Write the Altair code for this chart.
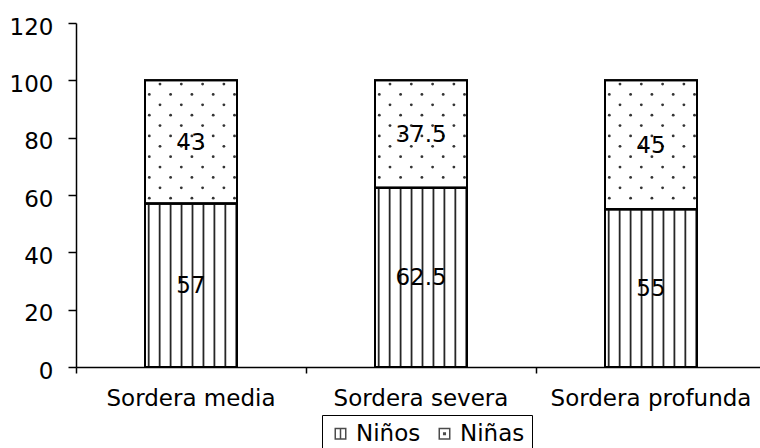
import altair as alt
import pandas as pd

# Data
categorias = ["Sordera media", "Sordera severa", "Sordera profunda"]
ninos = [57, 62.5, 55]
ninas = [43, 37.5, 45]
etiquetas_ninos = ["57", "62.5", "55"]
etiquetas_ninas = ["43", "37.5", "45"]
grupos = ["Niños", "Niñas"]
ticks_y = [0, 20, 40, 60, 80, 100, 120]

FONT = "DejaVu Sans"
FS = 23
W, H = 684, 344          # plot area
STEP = 230               # width of one category band (px)
BAR = 92                 # bar width (px)
BAR_LEFT = (STEP - BAR) / 2

# Stacked segments
seg_rows = []
for c, a, b, la, lb in zip(categorias, ninos, ninas, etiquetas_ninos, etiquetas_ninas):
    seg_rows.append({"cat": c, "grupo": "Niños", "y0": 0, "y1": a, "mid": a / 2, "label": la})
    seg_rows.append({"cat": c, "grupo": "Niñas", "y0": a, "y1": a + b, "mid": a + b / 2, "label": lb})
seg = pd.DataFrame(seg_rows)

# Vertical hatch texture for the "Niños" segments (offsets as band fractions)
STRIPE_START, STRIPE_GAP, N_STRIPES = 3.7, 10.95, 9
stripe_rows = []
for c, a in zip(categorias, ninos):
    for j in range(N_STRIPES):
        off = (BAR_LEFT + STRIPE_START + j * STRIPE_GAP) / STEP
        stripe_rows.append({"cat": c, "off": off, "y0": 0, "y1": a})
stripes = pd.DataFrame(stripe_rows)

# Dotted texture for the "Niñas" segments
ROW_GAP = 3.62           # rows, in y units
ROW_START = 1.3
DOT_GAP = 21.3
dot_rows = []
for c, a, b in zip(categorias, ninos, ninas):
    top = a + b
    r = 0
    while True:
        y = top - (ROW_START + r * ROW_GAP)
        if y < a + 0.9:
            break
        if r % 2 == 0:
            xs = [15 + k * DOT_GAP for k in range(4)]
        else:
            xs = [4.3 + k * DOT_GAP for k in range(5)]
        for px in xs:
            dot_rows.append({"cat": c, "off": (BAR_LEFT + px) / STEP, "y": y})
        r += 1
dots = pd.DataFrame(dot_rows)

x_scale = alt.Scale(domain=categorias, range=[0, 3 * STEP], paddingInner=0, paddingOuter=0)
y_scale = alt.Scale(domain=[0, 120], nice=False, zero=True)
off_scale = alt.Scale(domain=[0, 1], range=[0, STEP])

x_axis = alt.Axis(
    title=None, bandPosition=0, labelAngle=0, labelLimit=400,
    tickSize=6, tickWidth=1.5, tickColor="black",
    domainColor="black", domainWidth=1.5,
    labelPadding=14, labelFont=FONT, labelFontSize=FS, labelColor="black",
    grid=False,
)
y_axis = alt.Axis(
    title=None, values=ticks_y, tickSize=8, tickWidth=1.5, tickColor="black",
    domainColor="black", domainWidth=1.5,
    labelPadding=15, labelOffset=4, labelFont=FONT, labelFontSize=FS, labelColor="black",
    grid=False,
)

seg_path_ninos = "M-1,-1H1V1H-1Z M0,-1V1"
seg_path_ninas = "M-1,-1H1V1H-1Z M-0.15,-0.15H0.15V0.15H-0.15Z"

# Hidden markers underneath the bars; they only feed the legend symbols
legend_layer = alt.Chart(seg).mark_point(filled=False, color="black", size=110, strokeWidth=1.5).encode(
    x=alt.X("cat:N", scale=x_scale, axis=x_axis, sort=categorias),
    y=alt.Y("mid:Q", scale=y_scale, axis=y_axis),
    shape=alt.Shape(
        "grupo:N",
        scale=alt.Scale(domain=grupos, range=[seg_path_ninos, seg_path_ninas]),
        legend=alt.Legend(
            title=None, orient="none", legendX=246, legendY=392, direction="horizontal",
            strokeColor="black", padding=7, labelFont=FONT, labelFontSize=FS,
            labelColor="black", labelOffset=4, columnPadding=12,
            symbolStrokeWidth=1.5, symbolSize=110,
        ),
    ),
)

bars = alt.Chart(seg).mark_bar(size=BAR, fill="white", stroke="black", strokeWidth=2).encode(
    x=alt.X("cat:N", scale=x_scale, sort=categorias),
    y=alt.Y("y0:Q", scale=y_scale),
    y2="y1:Q",
)

hatch = alt.Chart(stripes).mark_rule(color="#262626", strokeWidth=1.8).encode(
    x=alt.X("cat:N", scale=x_scale, sort=categorias),
    xOffset=alt.XOffset("off:Q", scale=off_scale),
    y=alt.Y("y0:Q", scale=y_scale),
    y2="y1:Q",
)

dotted = alt.Chart(dots).mark_circle(color="#333333", size=8, opacity=1).encode(
    x=alt.X("cat:N", scale=x_scale, sort=categorias),
    xOffset=alt.XOffset("off:Q", scale=off_scale),
    y=alt.Y("y:Q", scale=y_scale),
)

outline = alt.Chart(seg).mark_bar(size=BAR, fillOpacity=0, stroke="black", strokeWidth=2).encode(
    x=alt.X("cat:N", scale=x_scale, sort=categorias),
    y=alt.Y("y0:Q", scale=y_scale),
    y2="y1:Q",
)

labels = alt.Chart(seg).mark_text(font=FONT, fontSize=FS, color="black", baseline="middle", dy=1).encode(
    x=alt.X("cat:N", scale=x_scale, sort=categorias),
    y=alt.Y("mid:Q", scale=y_scale),
    text="label:N",
)

chart = alt.layer(legend_layer, bars, hatch, dotted, outline, labels).properties(
    width=W, height=H,
    autosize=alt.AutoSizeParams(type="none"),
    padding={"left": 76, "top": 23, "right": 0, "bottom": 81},
    background="white",
).configure_view(strokeWidth=0)

chart.save("out.html", embed_options={"renderer": "svg", "actions": False})
